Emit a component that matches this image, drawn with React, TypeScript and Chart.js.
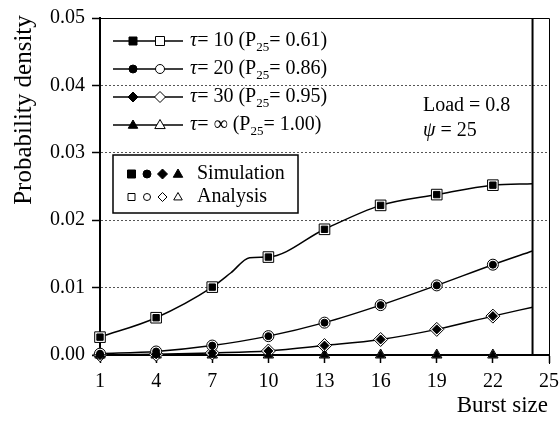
import React, { useEffect, useRef } from 'react';
import { Chart, registerables } from 'chart.js';

Chart.register(...registerables);

// Axis ticks
const xTicks = [1, 4, 7, 10, 13, 16, 19, 22, 25];
const yTicks = [0, 0.01, 0.02, 0.03, 0.04, 0.05];

// Simulation results (filled markers)
const simX = [1, 4, 7, 10, 13, 16, 19, 22];
const simTau10 = [0.00265, 0.00553, 0.01007, 0.01453, 0.01865, 0.0222, 0.0238, 0.0252];
const simTau20 = [0.0002, 0.00052, 0.0014, 0.0028, 0.0048, 0.0074, 0.01033, 0.0134];
const simTau30 = [0.00003, 0.0001, 0.0003, 0.0006, 0.0014, 0.0023, 0.0038, 0.00577];
const simTauInf = [0, 0, 0, 0, 0, 0, 0, 0];

// Analytical curves (open markers at the simulated burst sizes)
const burstLimit = 24.12;
const anaXTau10 = [1, 4, 7, 8, 9, 10, 13, 16, 19, 22, burstLimit];
const anaTau10 = [0.00265, 0.00553, 0.01007, 0.0122, 0.01444, 0.01453, 0.01865, 0.0222, 0.0238, 0.0252, 0.0254];
const anaX = [1, 4, 7, 10, 13, 16, 19, 22, burstLimit];
const anaTau20 = [0.0002, 0.00052, 0.0014, 0.0028, 0.0048, 0.0074, 0.01033, 0.0134, 0.01543];
const anaTau30 = [0.00003, 0.0001, 0.0003, 0.0006, 0.0014, 0.0023, 0.0038, 0.00577, 0.0071];
const anaTauInf = [0, 0, 0, 0, 0, 0, 0, 0, 0];

// Legend entries
const seriesTau = ['10', '20', '30', '\u221E'];
const seriesP25 = ['0.61', '0.86', '0.95', '1.00'];
const seriesShape = ['square', 'circle', 'diamond', 'triangle'];

const SERIF = "'Liberation Serif', 'Times New Roman', serif";

const toPoints = (xs: number[], ys: number[]) => xs.map((x, i) => ({ x, y: ys[i] }));

type Shape = 'square' | 'circle' | 'diamond' | 'triangle';

function drawShape(ctx: CanvasRenderingContext2D, shape: Shape, x: number, y: number, h: number, filled: boolean) {
  ctx.beginPath();
  if (shape === 'square') {
    ctx.rect(x - h, y - h, 2 * h, 2 * h);
  } else if (shape === 'circle') {
    ctx.arc(x, y, h, 0, Math.PI * 2);
  } else if (shape === 'diamond') {
    ctx.moveTo(x, y - h);
    ctx.lineTo(x + h, y);
    ctx.lineTo(x, y + h);
    ctx.lineTo(x - h, y);
    ctx.closePath();
  } else {
    ctx.moveTo(x, y - h);
    ctx.lineTo(x + h * 0.95, y + h * 0.65);
    ctx.lineTo(x - h * 0.95, y + h * 0.65);
    ctx.closePath();
  }
  ctx.fillStyle = filled ? '#000' : '#fff';
  ctx.fill();
  ctx.lineWidth = 1;
  ctx.strokeStyle = '#000';
  ctx.stroke();
}

type Part = { t: string; italic?: boolean; sub?: boolean };

function drawRich(ctx: CanvasRenderingContext2D, x: number, y: number, parts: Part[], size: number) {
  let cx = x;
  ctx.textAlign = 'left';
  ctx.textBaseline = 'middle';
  ctx.fillStyle = '#000';
  for (const p of parts) {
    const fs = p.sub ? Math.round(size * 0.65) : size;
    ctx.font = `${p.italic ? 'italic ' : ''}${fs}px ${SERIF}`;
    ctx.fillText(p.t, cx, y + (p.sub ? size * 0.33 : 0));
    cx += ctx.measureText(p.t).width;
  }
}

const decorations = {
  id: 'decorations',
  afterDatasetsDraw(chart: any) {
    const { ctx, chartArea, scales } = chart;
    const { left, right, top, bottom } = chartArea;
    ctx.save();
    // frame: top and right edges
    ctx.strokeStyle = '#000';
    ctx.lineWidth = 1;
    ctx.beginPath();
    ctx.moveTo(left, top + 0.5);
    ctx.lineTo(right + 0.5, top + 0.5);
    ctx.lineTo(right + 0.5, bottom + 9);
    ctx.stroke();
    // burst size limit
    const lx = scales.x.getPixelForValue(burstLimit);
    ctx.lineWidth = 2;
    ctx.beginPath();
    ctx.moveTo(lx, top);
    ctx.lineTo(lx, bottom);
    ctx.stroke();
    ctx.restore();
  },
  afterDraw(chart: any) {
    const { ctx } = chart;
    ctx.save();
    // axis titles
    ctx.fillStyle = '#000';
    ctx.font = `23px ${SERIF}`;
    ctx.textAlign = 'right';
    ctx.textBaseline = 'middle';
    ctx.fillText('Burst size', 548, 406);
    ctx.save();
    ctx.translate(24, 110);
    ctx.rotate(-Math.PI / 2);
    ctx.textAlign = 'center';
    ctx.font = `25px ${SERIF}`;
    ctx.fillText('Probability density', 0, 0);
    ctx.restore();

    // series legend
    const rowY = [41, 69, 97, 125];
    rowY.forEach((y, i) => {
      ctx.strokeStyle = '#000';
      ctx.lineWidth = 1.5;
      ctx.beginPath();
      ctx.moveTo(113, y);
      ctx.lineTo(183, y);
      ctx.stroke();
      const shape = seriesShape[i] as Shape;
      const big = shape === 'circle' ? 4.5 : shape === 'square' ? 4.5 : 5.5;
      drawShape(ctx, shape, 133, y, big - 0.5, true);
      drawShape(ctx, shape, 160, y, big, false);
      drawRich(ctx, 190, y, [
        { t: '\u03C4', italic: true },
        { t: `= ${seriesTau[i]} (P` },
        { t: '25', sub: true },
        { t: `= ${seriesP25[i]})` },
      ], 20);
    });

    // marker legend box
    ctx.fillStyle = '#fff';
    ctx.fillRect(113, 155, 185, 58);
    ctx.strokeStyle = '#000';
    ctx.lineWidth = 1.5;
    ctx.strokeRect(113, 155, 185, 58);
    const boxX = [131.5, 147, 162.5, 178];
    seriesShape.forEach((s, i) => {
      const h = s === 'square' ? 4 : s === 'circle' ? 4 : 5;
      drawShape(ctx, s as Shape, boxX[i], 174, h, true);
      drawShape(ctx, s as Shape, boxX[i], 197, h - 0.5, false);
    });
    drawRich(ctx, 197, 174, [{ t: 'Simulation' }], 20);
    drawRich(ctx, 197, 197, [{ t: 'Analysis' }], 20);

    // operating point
    drawRich(ctx, 423, 106, [{ t: 'Load = 0.8' }], 20);
    drawRich(ctx, 423, 131, [{ t: '\u03C8', italic: true }, { t: ' = 25' }], 20);
    ctx.restore();
  },
};

const simStyle = (shape: string, r: number) => ({
  showLine: false,
  pointStyle: shape,
  pointRadius: r,
  pointBackgroundColor: '#000',
  pointBorderColor: '#000',
  pointBorderWidth: 1,
  clip: false as const,
});

const anaStyle = (shape: string, r: number) => ({
  showLine: true,
  borderColor: '#000',
  borderWidth: 1.5,
  cubicInterpolationMode: 'monotone' as const,
  pointStyle: shape,
  pointRadius: (c: any) => (c.raw && simX.includes(c.raw.x) ? r : 0),
  pointBackgroundColor: '#fff',
  pointBorderColor: '#000',
  pointBorderWidth: 1,
  clip: false as const,
});

export default function App() {
  const canvasRef = useRef<HTMLCanvasElement | null>(null);

  useEffect(() => {
    if (!canvasRef.current) return;
    const chart = new Chart(canvasRef.current, {
      type: 'scatter',
      data: {
        datasets: [
          { label: 'sim10', data: toPoints(simX, simTau10), ...simStyle('rect', 4.5) },
          { label: 'sim20', data: toPoints(simX, simTau20), ...simStyle('circle', 3.5) },
          { label: 'sim30', data: toPoints(simX, simTau30), ...simStyle('rectRot', 4.5) },
          { label: 'simInf', data: toPoints(simX, simTauInf), ...simStyle('triangle', 4.5) },
          { label: 'ana10', data: toPoints(anaXTau10, anaTau10), ...anaStyle('rect', 7.5) },
          { label: 'ana20', data: toPoints(anaX, anaTau20), ...anaStyle('circle', 5.5) },
          { label: 'ana30', data: toPoints(anaX, anaTau30), ...anaStyle('rectRot', 7) },
          { label: 'anaInf', data: toPoints(anaX, anaTauInf), ...anaStyle('triangle', 6) },
        ] as any,
      },
      options: {
        animation: false,
        responsive: false,
        devicePixelRatio: 1,
        events: [],
        layout: { padding: { top: 18, right: 11, left: 0, bottom: 0 } },
        plugins: { legend: { display: false }, tooltip: { enabled: false } },
        scales: {
          x: {
            type: 'linear',
            min: 1,
            max: 25,
            afterBuildTicks: (s: any) => {
              s.ticks = xTicks.map((v) => ({ value: v }));
            },
            afterFit: (s: any) => {
              s.height = 67;
              s.paddingLeft = 0;
              s.paddingRight = 0;
            },
            grid: {
              drawOnChartArea: false,
              drawTicks: true,
              tickLength: 8,
              tickColor: '#000',
              tickWidth: 1.5,
              color: '#000',
            },
            border: { display: true, color: '#000', width: 2 },
            ticks: {
              color: '#000',
              font: { family: SERIF, size: 20 },
              padding: 7,
              maxRotation: 0,
              autoSkip: false,
              callback: (v: any) => String(v),
            },
          },
          y: {
            type: 'linear',
            min: 0,
            max: 0.05,
            afterBuildTicks: (s: any) => {
              s.ticks = yTicks.map((v) => ({ value: v }));
            },
            afterFit: (s: any) => {
              s.width = 100;
              s.paddingTop = 0;
              s.paddingBottom = 0;
            },
            grid: {
              color: (c: any) =>
                c.tick && (c.tick.value < 1e-9 || c.tick.value > 0.0499) ? 'rgba(0,0,0,0)' : '#555',
              lineWidth: 1,
              tickLength: 8,
              tickColor: '#000',
              tickWidth: 1.5,
            },
            border: { display: true, color: '#000', width: 2, dash: [2, 2] },
            ticks: {
              color: '#000',
              font: { family: SERIF, size: 20 },
              padding: 7,
              callback: (v: any) => Number(v).toFixed(2),
            },
          },
        },
      },
      plugins: [decorations],
    });
    return () => chart.destroy();
  }, []);

  return (
    <div style={{ position: 'fixed', left: 0, top: 0, width: 560, height: 422, background: '#fff' }}>
      <canvas ref={canvasRef} width={560} height={422} style={{ display: 'block' }} />
    </div>
  );
}
